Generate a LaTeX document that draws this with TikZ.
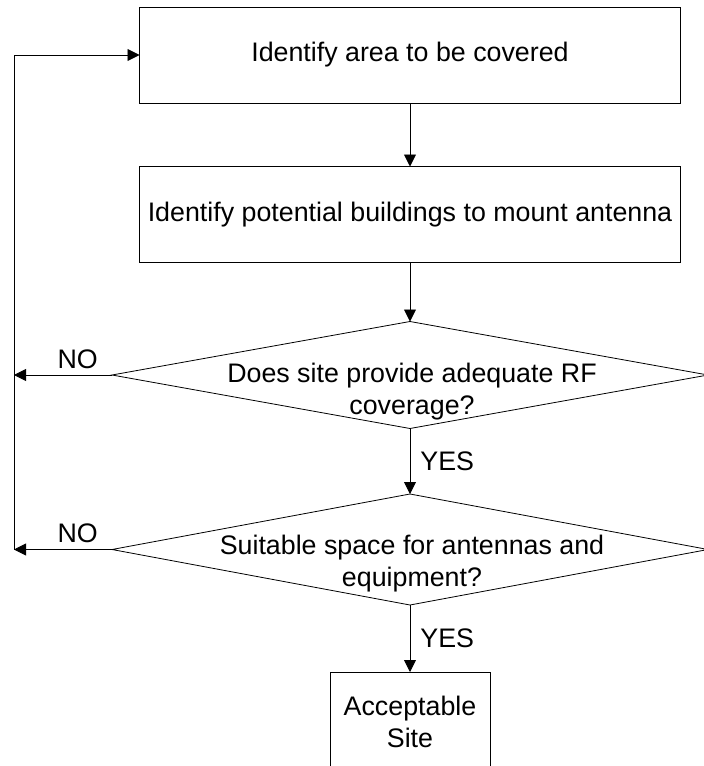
\documentclass[tikz,border=0pt]{standalone}
\usepackage{fontspec}
\setmainfont{Liberation Sans}
\usetikzlibrary{shapes.geometric,arrows.meta}
\begin{document}
\begin{tikzpicture}[x=1pt,y=-1pt,
  every node/.style={font=\fontsize{26.8}{32}\selectfont},
  proc/.style={draw, line width=0.9pt, minimum width=541pt, minimum height=96pt,
               inner sep=0pt, outer sep=0pt},
  decision/.style={draw, diamond, line width=0.8pt, inner sep=0pt, outer sep=0pt},
  lbl/.style={align=center, inner sep=0pt},
  flow/.style={line width=0.9pt, -{Triangle[length=12pt,width=12pt]}}]
\useasboundingbox (0,0) rectangle (704,766);

% process boxes
\node[proc] (area) at (410,55) {Identify area to be covered};
\node[proc] (bldg) at (410,214.5) {Identify potential buildings to mount antenna};

% decisions
\node[decision, minimum width=596pt, minimum height=107pt] (rf) at (410,375) {};
\node[lbl] (rftext) at (412,392) {Does site provide adequate RF\\coverage?};
\node[decision, minimum width=596pt, minimum height=111pt] (space) at (410,549.5) {};
\node[lbl] (spacetext) at (412,564) {Suitable space for antennas and\\equipment?};

% final box
\node[draw, line width=0.9pt, minimum width=160pt, minimum height=100pt,
      inner sep=0pt, outer sep=0pt, align=center] (ok) at (410,722) {Acceptable\\Site};

% return loop
\coordinate (loopTop) at (14,55);
\coordinate (loopBot) at (14,549.5);

\draw[flow] (area) -- (bldg);
\draw[flow] (bldg) -- (rf.north);
\draw[flow] (rf.south) -- (space.north) node[lbl, midway, right=10pt] (yes1) {YES};
\draw[flow] (space.south) -- (ok) node[lbl, midway, right=10pt] (yes2) {YES};
\draw[flow] (rf.west) -- (rf.west -| loopTop) node[lbl, pos=0.35, above=6pt] (no1) {NO};
\draw[flow] (space.west) -- (loopBot) node[lbl, pos=0.35, above=6pt] (no2) {NO};
\draw[flow] (loopBot) -- (loopTop) -- (area.west);
\end{tikzpicture}
\end{document}
